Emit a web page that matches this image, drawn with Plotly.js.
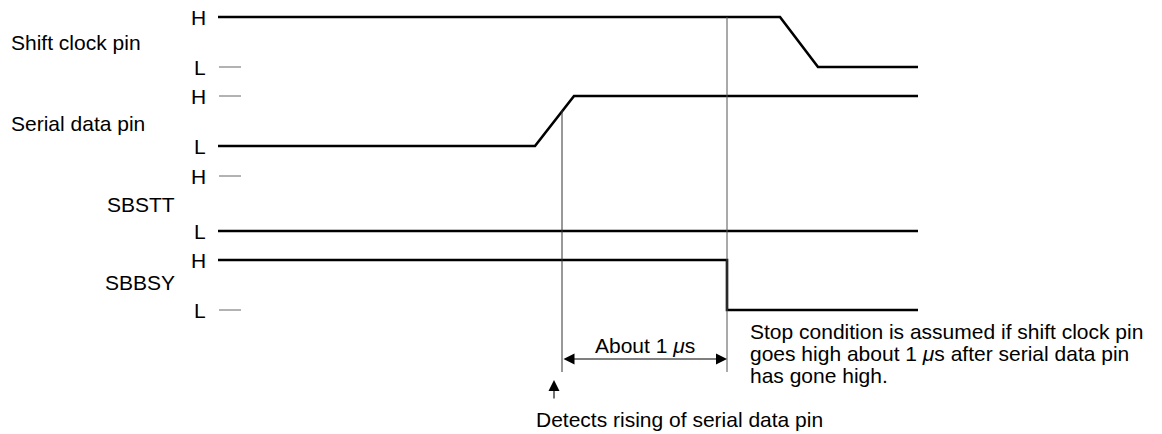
<!DOCTYPE html>
<html>
<head>
<meta charset="utf-8">
<script src="https://cdn.plot.ly/plotly-3.0.1.min.js"></script>
<style>html,body{margin:0;padding:0;background:#fff;}#chart{width:1162px;height:434px;}</style>
</head>
<body>
<div id="chart"></div>
<script>
// Signal names and their levels (canvas units)
const signalNames = ["Shift clock pin", "Serial data pin", "SBSTT", "SBBSY"];
const highLevels = [17, 96, 176, 260];
const lowLevels = [67, 146, 231, 310];

// Waveforms: time points and levels
const clockT = [218, 780, 818, 918];
const clockY = [17, 17, 67, 67];
const dataT = [218, 535, 574, 918];
const dataY = [146, 146, 96, 96];
const sbsttT = [218, 918];
const sbsttY = [231, 231];
const sbbsyT = [218, 727, 727, 918];
const sbbsyY = [260, 260, 310, 310];

// Marker lines (detect point and stop point)
const detectT = 562;
const stopT = 727;
const markerTop = [110, 17];
const markerBottom = 372;

const spanLabel = "About 1 <i>μ</i>s";
const noteLines = ["Stop condition is assumed if shift clock pin",
                   "goes high about 1 <i>μ</i>s after serial data pin",
                   "has gone high."];
const detectLabel = "Detects rising of serial data pin";

const FONT = "Arial, 'Liberation Sans', sans-serif";
const wave = {color: "#000", width: 2.6};
const thin = {color: "#666", width: 1};

const traces = [
  {x: clockT, y: clockY, mode: "lines", line: wave},
  {x: dataT, y: dataY, mode: "lines", line: wave},
  {x: sbsttT, y: sbsttY, mode: "lines", line: wave},
  {x: sbbsyT, y: sbbsyY, mode: "lines", line: wave},
  {x: [detectT, detectT], y: [markerTop[0], markerBottom], mode: "lines", line: {color: "#333", width: 1}},
  {x: [stopT, stopT], y: [markerTop[1], markerBottom], mode: "lines", line: {color: "#555", width: 1}},
];
// thin level ticks where the waveform is not at that level at the start
const tickLevels = [lowLevels[0], highLevels[1], highLevels[2], lowLevels[3]];
tickLevels.forEach(v => traces.push({x: [219, 241], y: [v, v], mode: "lines", line: thin}));
traces.forEach(t => { t.hoverinfo = "skip"; t.showlegend = false; });

const ann = [];
const txt = (x, y, text, xanchor) => ann.push({x, y, text, xref: "x", yref: "y", showarrow: false,
  xanchor: xanchor || "left", yanchor: "middle", font: {family: FONT, size: 21, color: "#000"}});

// H/L labels
highLevels.forEach(v => txt(208, v, "H", "right"));
lowLevels.forEach(v => txt(208, v, "L", "right"));
// Signal names
txt(9, 42, signalNames[0]);
txt(9, 123, signalNames[1]);
txt(177, 204, signalNames[2], "right");
txt(177, 282, signalNames[3], "right");
// span label and double arrow
txt((detectT + stopT) / 2, 345, spanLabel, "center");
ann.push({x: stopT, y: 359, ax: detectT, ay: 359, xref: "x", yref: "y", axref: "x", ayref: "y",
  showarrow: true, arrowhead: 2, arrowside: "end+start", arrowsize: 2, arrowwidth: 1.1, arrowcolor: "#000", text: ""});
// up arrow
ann.push({x: 554, y: 380, ax: 554, ay: 400, xref: "x", yref: "y", axref: "x", ayref: "y",
  showarrow: true, arrowhead: 2, arrowsize: 2, arrowwidth: 1.1, arrowcolor: "#000", text: ""});
// notes
noteLines.forEach((l, i) => txt(748, 331 + i * 22, l));
txt(534, 419, detectLabel);

const hidden = {visible: false, fixedrange: true};
Plotly.newPlot("chart", traces, {
  width: 1162, height: 434,
  margin: {l: 0, r: 0, t: 0, b: 0},
  paper_bgcolor: "#fff", plot_bgcolor: "#fff",
  xaxis: Object.assign({range: [0, 1162]}, hidden),
  yaxis: Object.assign({range: [434, 0]}, hidden),
  annotations: ann,
  showlegend: false
}, {staticPlot: true});
</script>
</body>
</html>
